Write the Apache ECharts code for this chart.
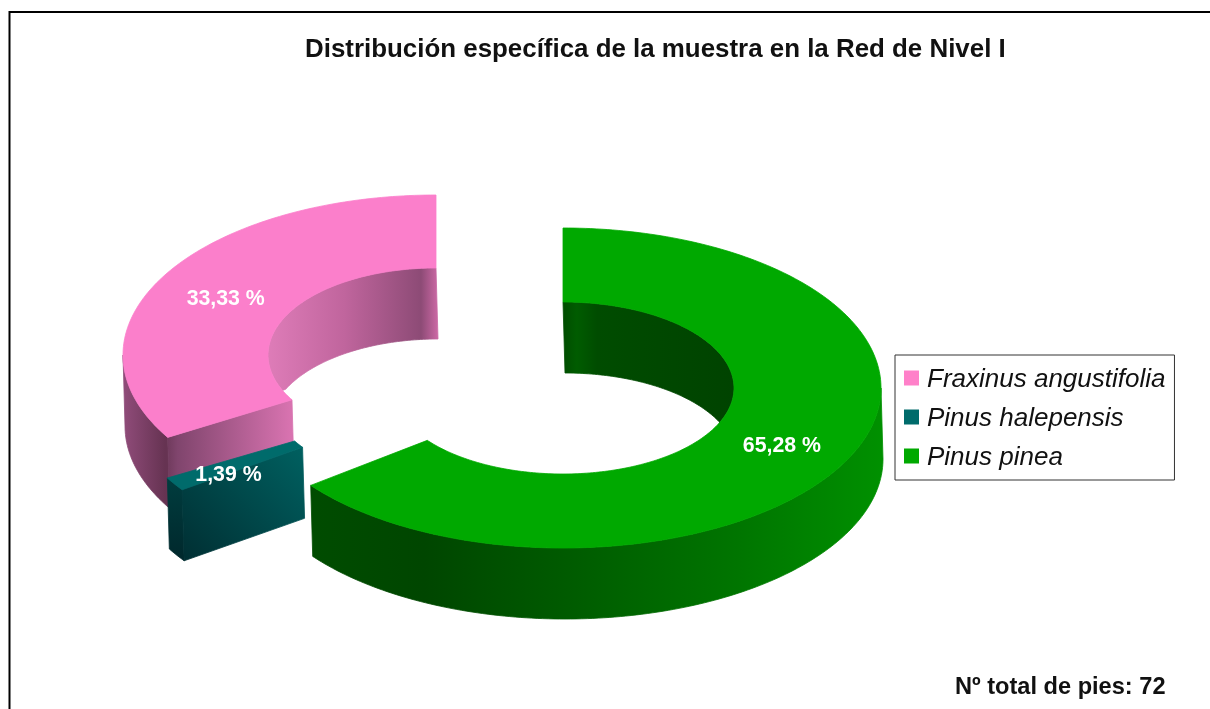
<!DOCTYPE html>
<html>
<head>
<meta charset="utf-8">
<style>html,body{margin:0;padding:0;background:#fff}#c{width:1210px;height:709px}</style>
<script src="https://cdn.jsdelivr.net/npm/echarts@6/dist/echarts.min.js"></script>
</head>
<body>
<div id="c"></div>
<script>
// ---- data ----
const titleText = 'Distribución específica de la muestra en la Red de Nivel I';
const totalText = 'Nº total de pies: 72';
const categories = ['Fraxinus angustifolia', 'Pinus halepensis', 'Pinus pinea'];
const treeCounts = [24, 1, 47];
const percentLabels = ['33,33 %', '1,39 %', '65,28 %'];

// ---- layout and style of the exploded 3D ring ----
const FONT = '"Liberation Sans", Arial, sans-serif';
const DEPTH = 71, SKEW = 2;
const LG = (x0, y0, x1, y1, stops) => new echarts.graphic.LinearGradient(
  x0, y0, x1, y1, stops.map((c, i) => ({ offset: c[0], color: c[1] })), true);
// trim: small change of the drawn start/end angle, the original's perspective correction
const sliceStyle = [
  { c: [436, 355], rx: 313, ry: 160, irx: 168, iry: 87, trim: [-1, 0], nudge: [-2, 6], swatch: '#ff80c9', top: '#fb7fcb',
    outer: LG(123, 0, 165, 0, [[0, '#904c7a'], [1, '#663352']]),
    inner: LG(268, 0, 438, 0, [[0, '#de7cb8'], [0.45, '#c0659d'], [0.9, '#8d4b76'], [1, '#cc69a5']]),
    cut: LG(165, 0, 291, 0, [[0, '#6c3859'], [0.1, '#80456d'], [1, '#d873b0']]) },
  { c: [441, 398], rx: 316, ry: 160, irx: 169, iry: 86, trim: [0, 0], nudge: [-8, 11], swatch: '#006b6b', top: '#006b6b',
    outer: LG(0, 480, 0, 560, [[0, '#003c3e'], [1, '#00282c']]),
    inner: '#003c3e',
    cut: LG(185, 561, 302, 447, [[0, '#002f33'], [1, '#006060']]) },
  { c: [563, 388], rx: 318, ry: 160, irx: 171, iry: 86, trim: [0, -2.5], nudge: [2, 1], swatch: '#00a900', top: '#00a900',
    outer: LG(310, 0, 881, 0, [[0, '#004c00'], [0.2, '#004600'], [0.5, '#005f00'], [0.75, '#007500'], [1, '#009000']]),
    inner: LG(563, 0, 735, 0, [[0, '#004d00'], [0.08, '#005c00'], [0.2, '#004c00'], [1, '#004300']]),
    cut: '#004800' }
];

// Slices run counter-clockwise from twelve o'clock, in category order.
const total = treeCounts.reduce((a, b) => a + b, 0);
function sliceAngles(i) {
  const before = treeCounts.slice(0, i).reduce((a, b) => a + b, 0);
  return [360 - (before + treeCounts[i]) / total * 360, 360 - before / total * 360];
}
const rad = d => d * Math.PI / 180;
const pt = (c, rx, ry, a) => [c[0] + rx * Math.sin(rad(a)), c[1] - ry * Math.cos(rad(a))];
const drop = p => [p[0] + SKEW, p[1] + DEPTH];
function angleSteps(a0, a1) {
  const out = [a0];
  for (let a = Math.ceil(a0 + 0.001); a < a1; a++) out.push(a);
  out.push(a1);
  return out;
}
const poly = (points, fill) => ({ type: 'polygon', shape: { points }, style: { fill, stroke: fill, lineWidth: 0.8 } });

function renderSlice(i) {
  return function () {
    const s = sliceStyle[i];
    const [t0, t1] = sliceAngles(i);
    const a0 = t0 + s.trim[0], a1 = t1 + s.trim[1];
    const steps = angleSteps(a0, a1);
    const out = a => pt(s.c, s.rx, s.ry, a);
    const inn = a => pt(s.c, s.irx, s.iry, a);
    const kids = [];

    // inner wall, seen through the hole
    const k = DEPTH / (2 * s.iry);
    const upper = steps.filter(a => Math.cos(rad(a)) >= -k).map(inn);
    const lower = steps.filter(a => Math.cos(rad(a)) >= k).map(a => drop(inn(a)));
    if (upper.length > 1 && lower.length > 1) kids.push(poly(upper.concat(lower.reverse()), s.inner));

    // outer wall, front half only
    const front = steps.filter(a => a >= 90 && a <= 270);
    if (front.length > 1) {
      const e = front.map(out);
      kids.push(poly(e.concat(e.map(drop).reverse()), s.outer));
    }

    // cut faces turned towards the viewer
    const cutAt = a => [out(a), inn(a), drop(inn(a)), drop(out(a))];
    if (Math.sin(rad(a0)) < -1e-6) kids.push(poly(cutAt(a0), s.cut));
    if (Math.sin(rad(a1)) > 1e-6) kids.push(poly(cutAt(a1), s.cut));

    // top face
    kids.push(poly(steps.map(out).concat(steps.slice().reverse().map(inn)), s.top));

    // percentage label on the ring's middle radius
    const m = (t0 + t1) / 2;
    const lp = pt(s.c, (s.rx + s.irx) / 2, (s.ry + s.iry) / 2, m);
    kids.push({
      type: 'text', z2: 50,
      style: { text: percentLabels[i], x: lp[0] + s.nudge[0], y: lp[1] + s.nudge[1],
        align: 'center', verticalAlign: 'middle', fill: '#ffffff',
        fontFamily: FONT, fontWeight: 'bold', fontSize: 21.3 }
    });
    return { type: 'group', children: kids };
  };
}

const chart = echarts.init(document.getElementById('c'), null, { renderer: 'canvas' });
chart.setOption({
  animation: false,
  backgroundColor: '#ffffff',
  title: [
    { text: titleText, left: 305, top: 37, padding: 0,
      textStyle: { fontFamily: FONT, fontWeight: 'bold', fontSize: 25.9, color: '#111' } },
    { text: totalText, left: 955, top: 675, padding: 0,
      textStyle: { fontFamily: FONT, fontWeight: 'bold', fontSize: 23.6, color: '#111' } }
  ],
  legend: {
    left: 895, top: 355, orient: 'vertical', selectedMode: false,
    padding: [8, 9, 9, 9], itemGap: 9, itemWidth: 15, itemHeight: 15,
    borderColor: '#333', borderWidth: 1, backgroundColor: '#fff',
    icon: 'rect', data: categories,
    formatter: '{t|{name}}',
    textStyle: {
      fontFamily: FONT, fontStyle: 'italic', fontSize: 26, color: '#111',
      rich: { t: { fontFamily: FONT, fontStyle: 'italic', fontSize: 26, color: '#111', lineHeight: 24, padding: [4, 0, 0, 3] } }
    }
  },
  graphic: [{
    type: 'polyline', silent: true,
    shape: { points: [[9.5, 709], [9.5, 12], [1210, 12]] },
    style: { stroke: '#000', lineWidth: 2, fill: null }
  }],
  series: categories.map((name, i) => ({
    type: 'custom', name, coordinateSystem: 'none', silent: true,
    itemStyle: { color: sliceStyle[i].swatch },
    renderItem: renderSlice(i),
    data: [[treeCounts[i]]]
  }))
});
</script>
</body>
</html>
